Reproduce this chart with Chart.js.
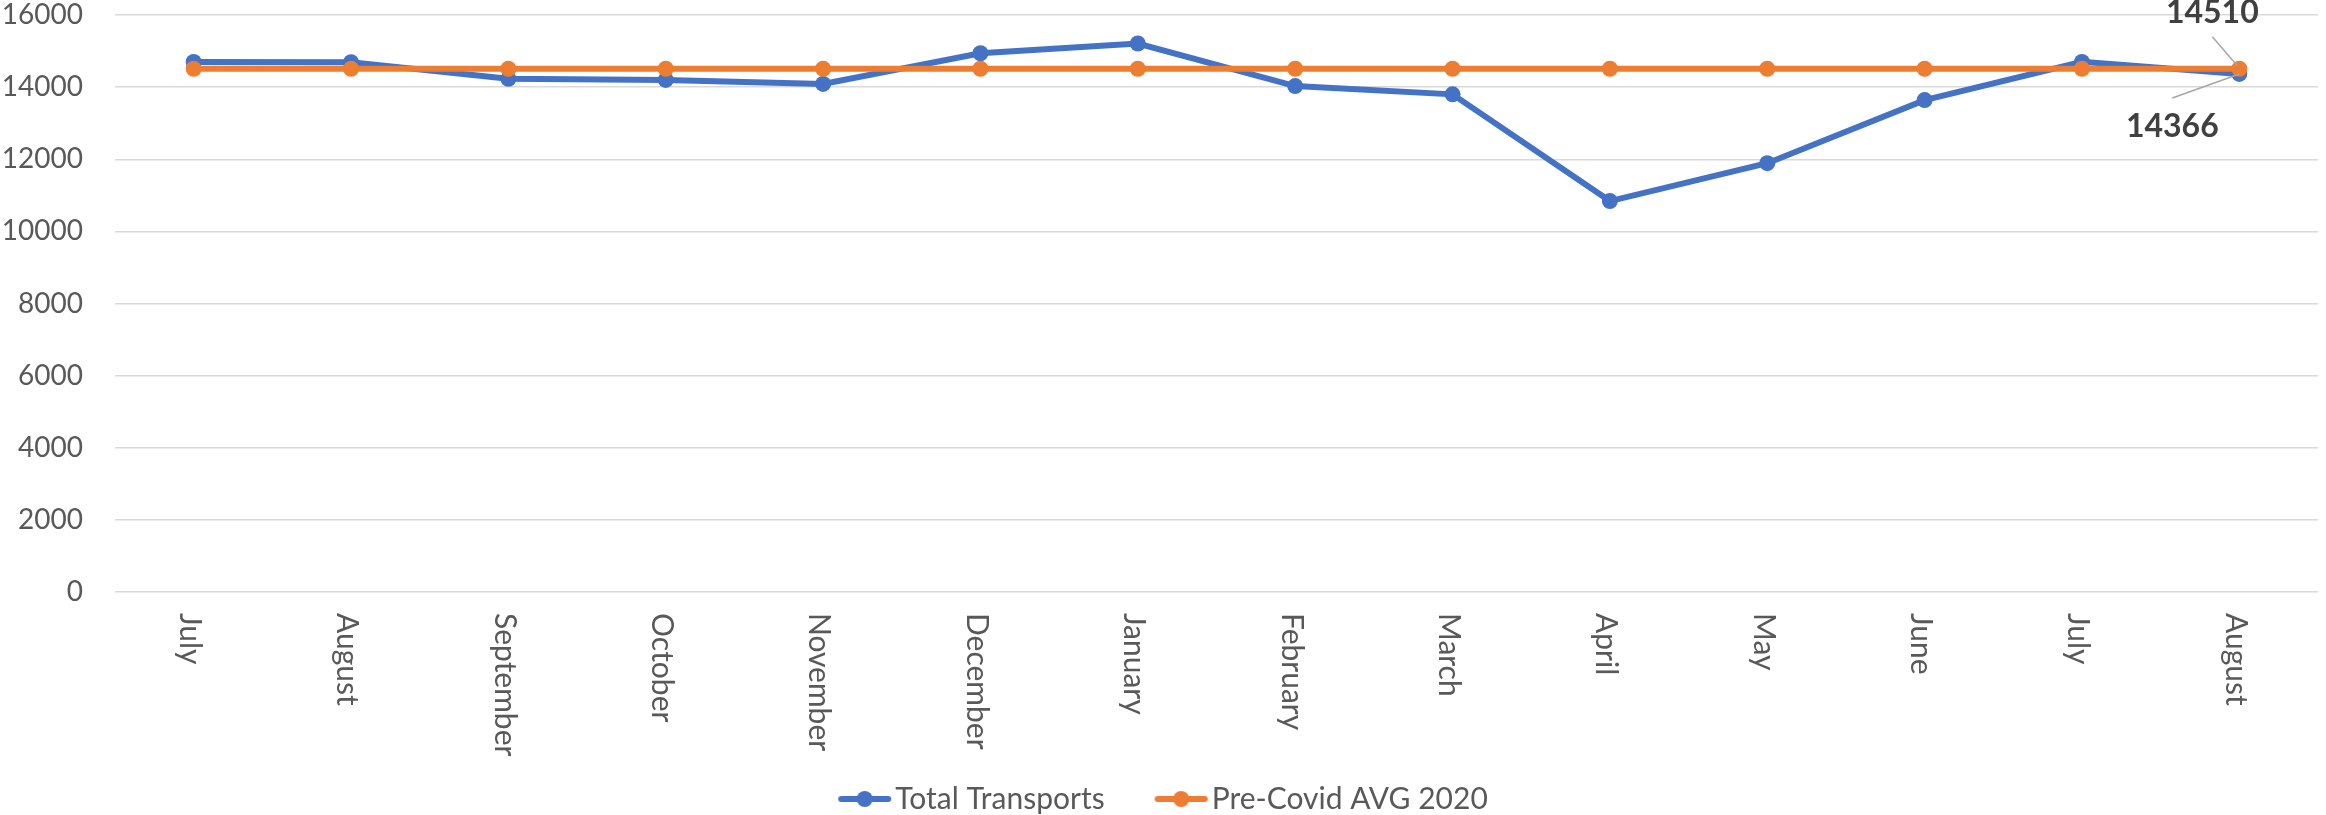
<!DOCTYPE html>
<html>
<head>
<meta charset="utf-8">
<script src="https://cdn.jsdelivr.net/npm/chart.js@4.4.0/dist/chart.umd.min.js"></script>
<style>
  html, body { margin: 0; padding: 0; background: #fff; }
  #wrap { width: 2326px; height: 815px; }
</style>
</head>
<body>
<div id="wrap"><canvas id="chart" width="2326" height="815"></canvas></div>
<script>
const months = ['July', 'August', 'September', 'October', 'November', 'December',
  'January', 'February', 'March', 'April', 'May', 'June', 'July', 'August'];
const totalTransports = [14700, 14690, 14230, 14200, 14090, 14940, 15210,
  14030, 13800, 10840, 11890, 13640, 14700, 14366];
const preCovidAvg = [14510, 14510, 14510, 14510, 14510, 14510, 14510,
  14510, 14510, 14510, 14510, 14510, 14510, 14510];
const yTicks = [0, 2000, 4000, 6000, 8000, 10000, 12000, 14000, 16000];

const BLUE = '#4472C4';
const ORANGE = '#ED7D31';
const TEXT = '#595959';
const FONT = 'Lato, "Open Sans", sans-serif';

// legend marker: short thick line with a dot, shifted right so it sits close to the text
function legendIcon(color) {
  const c = document.createElement('canvas');
  c.width = 74;
  c.height = 18;
  const g = c.getContext('2d');
  g.strokeStyle = color;
  g.lineWidth = 6;
  g.lineCap = 'round';
  g.beginPath();
  g.moveTo(21, 9);
  g.lineTo(68, 9);
  g.stroke();
  g.fillStyle = color;
  g.beginPath();
  g.arc(44.5, 9, 8, 0, Math.PI * 2);
  g.fill();
  return c;
}

// x labels read top to bottom (rotated clockwise), which Chart.js can't do itself
const verticalLabels = {
  id: 'verticalLabels',
  afterDraw(chart) {
    const ctx = chart.ctx;
    const xAxis = chart.scales.x;
    ctx.save();
    ctx.font = '30px ' + FONT;
    ctx.fillStyle = TEXT;
    ctx.textAlign = 'left';
    ctx.textBaseline = 'middle';
    months.forEach((m, i) => {
      const x = xAxis.getPixelForTick(i);
      ctx.save();
      ctx.translate(x - 4, xAxis.top + 21);
      ctx.rotate(Math.PI / 2);
      ctx.fillText(m, 0, 0);
      ctx.restore();
    });
    ctx.restore();
  }
};

// the two callout labels on the last point, with leader lines
const callouts = {
  id: 'callouts',
  afterDatasetsDraw(chart) {
    const ctx = chart.ctx;
    const last = months.length - 1;
    const items = [
      { ds: 1, value: preCovidAvg[last], dx: -27, dy: -56, lx: -27, ly: -32, ex: -2, ey: -3 },
      { ds: 0, value: totalTransports[last], dx: -67, dy: 53, lx: -67, ly: 24, ex: 0, ey: 0 }
    ];
    ctx.save();
    items.forEach(it => {
      const pt = chart.getDatasetMeta(it.ds).data[last];
      ctx.strokeStyle = '#a6a6a6';
      ctx.lineWidth = 1.5;
      ctx.beginPath();
      ctx.moveTo(pt.x + it.lx, pt.y + it.ly);
      ctx.lineTo(pt.x + it.ex, pt.y + it.ey);
      ctx.stroke();
      ctx.font = 'bold 32px ' + FONT;
      ctx.fillStyle = '#404040';
      ctx.textAlign = 'center';
      ctx.textBaseline = 'middle';
      ctx.fillText(String(it.value), pt.x + it.dx, pt.y + it.dy);
    });
    ctx.restore();
  }
};

const chart = new Chart(document.getElementById('chart'), {
  type: 'line',
  data: {
    labels: months,
    datasets: [{
      label: 'Total Transports',
      data: totalTransports,
      borderColor: BLUE,
      backgroundColor: BLUE,
      borderWidth: 6,
      pointRadius: 8,
      pointBorderWidth: 0,
      tension: 0,
      order: 1
    }, {
      label: 'Pre-Covid AVG 2020',
      data: preCovidAvg,
      borderColor: ORANGE,
      backgroundColor: ORANGE,
      borderWidth: 6,
      pointRadius: 8,
      pointBorderWidth: 0,
      tension: 0,
      order: 0
    }]
  },
  options: {
    responsive: false,
    animation: false,
    layout: {
      padding: { left: 0, right: 4, top: 0, bottom: -9 }
    },
    plugins: {
      tooltip: { enabled: false },
      legend: {
        position: 'bottom',
        labels: {
          usePointStyle: true,
          pointStyleWidth: 46,
          padding: 46,
          color: TEXT,
          font: { family: FONT, size: 30 },
          generateLabels: (chart) => chart.data.datasets.map((ds, i) => ({
            text: ds.label,
            fillStyle: ds.borderColor,
            strokeStyle: ds.borderColor,
            lineWidth: 0,
            pointStyle: legendIcon(ds.borderColor),
            fontColor: TEXT,
            hidden: false,
            datasetIndex: i
          }))
        }
      }
    },
    scales: {
      x: {
        offset: true,
        grid: { display: false, drawTicks: false },
        border: { display: false },
        ticks: { display: false },
        afterFit: (scale) => { scale.height = 146; }
      },
      y: {
        min: 0,
        max: 16000,
        afterBuildTicks: (scale) => { scale.ticks = yTicks.map(v => ({ value: v })); },
        grid: { color: '#d9d9d9', lineWidth: 1.5, drawTicks: false },
        border: { display: false },
        ticks: {
          padding: 32,
          color: TEXT,
          font: { family: FONT, size: 28 },
          callback: (value) => String(value)
        },
        afterFit: (scale) => {
          scale.width = 115;
          scale.paddingTop = 15;
          scale.paddingBottom = 0;
        }
      }
    }
  },
  plugins: [verticalLabels, callouts]
});
</script>
</body>
</html>
